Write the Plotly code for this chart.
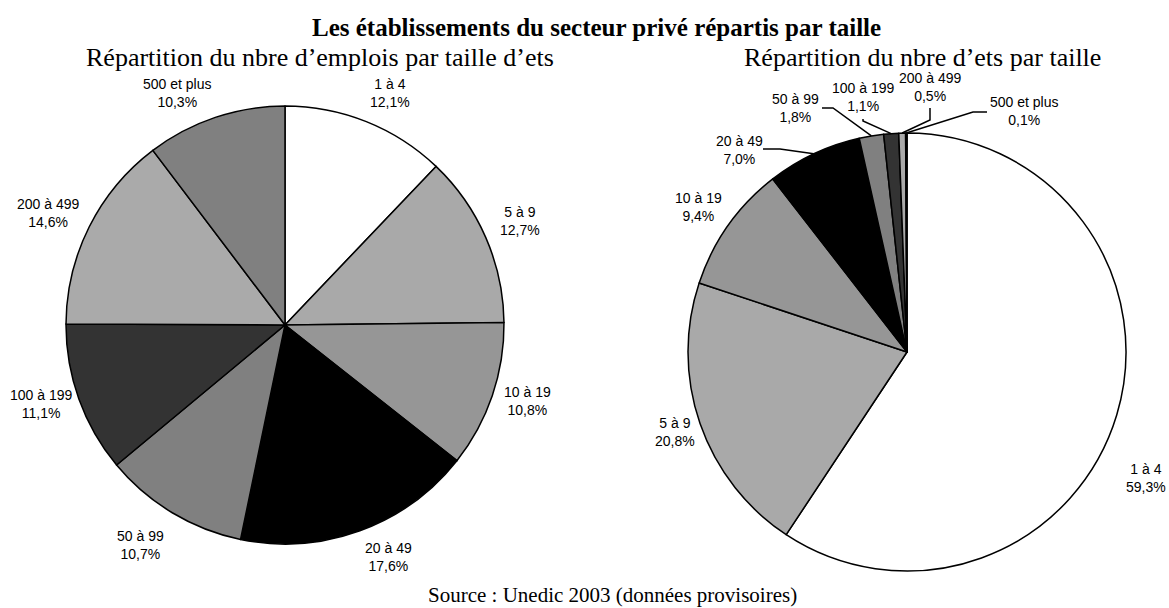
import math
import plotly.graph_objects as go

# ---------------- data ----------------
categories = ["1 à 4", "5 à 9", "10 à 19", "20 à 49", "50 à 99", "100 à 199", "200 à 499", "500 et plus"]
emplois_pct = [12.1, 12.7, 10.8, 17.6, 10.7, 11.1, 14.6, 10.3]
ets_pct = [59.3, 20.8, 9.4, 7.0, 1.8, 1.1, 0.5, 0.1]

title_text = "<b>Les établissements du secteur privé répartis par taille</b>"
left_title = "Répartition du nbre d’emplois par taille d’ets"
right_title = "Répartition du nbre d’ets par taille"
source_text = "Source : Unedic 2003 (données provisoires)"

colors = ["#ffffff", "#a9a9a9", "#969696", "#000000", "#808080", "#333333", "#aaaaaa", "#808080"]

# ---------------- layout helpers ----------------
W, H = 1169, 608
def fx(x):
    return x / W
def fy(y):
    return 1 - y / H

L_C, L_R = (285, 325), 219
R_C, R_R = (907, 352), 219

def domain(c, r):
    return dict(x=[fx(c[0] - r), fx(c[0] + r)], y=[fy(c[1] + r), fy(c[1] - r)])

def mid_point(values, i, c, r):
    tot = sum(values)
    frac = (sum(values[:i]) + values[i] / 2) / tot
    a = 2 * math.pi * frac
    return c[0] + r * math.sin(a), c[1] - r * math.cos(a)

def fmt(v):
    return f"{v:.1f}".replace(".", ",") + "%"

# label centres (pixels) – layout only
left_label_pos = [(390, 93), (520, 221), (527, 401), (388, 557), (140, 545), (41, 404), (48, 213), (177, 93)]
right_label_pos = [(1146, 478), (675, 432), (698, 207), (740, 150), (795, 108), (863, 97), (930, 87), (1024, 111)]
# leader lines for the right pie: (start point near label, elbow) – layout only
right_leaders = {
    3: [(763, 149), (780, 149)],
    4: [(822, 108), (833, 108)],
    5: [(863, 119), (863, 121)],
    6: [(930, 108), (930, 120)],
    7: [(987, 112), (973, 112)],
}

fig = go.Figure()
for vals, c, r in [(emplois_pct, L_C, L_R), (ets_pct, R_C, R_R)]:
    fig.add_trace(go.Pie(
        labels=categories, values=vals, sort=False, direction="clockwise", rotation=0,
        marker=dict(colors=colors, line=dict(color="#000000", width=1.5)),
        textinfo="none", hoverinfo="label+percent", showlegend=False,
        domain=domain(c, r),
    ))

annotations = []
label_font = dict(family="Liberation Sans, Arial, sans-serif", size=14, color="#000000")
for i, cat in enumerate(categories):
    x, y = left_label_pos[i]
    annotations.append(dict(x=fx(x), y=fy(y), xref="paper", yref="paper", showarrow=False,
                            text=f"{cat}<br>{fmt(emplois_pct[i])}", font=label_font,
                            xanchor="center", yanchor="middle"))
    x, y = right_label_pos[i]
    annotations.append(dict(x=fx(x), y=fy(y), xref="paper", yref="paper", showarrow=False,
                            text=f"{cat}<br>{fmt(ets_pct[i])}", font=label_font,
                            xanchor="center", yanchor="middle"))

shapes = []
for i, pts in right_leaders.items():
    ex, ey = mid_point(ets_pct, i, R_C, R_R)
    allp = pts + [(ex, ey)]
    path = "M " + " L ".join(f"{fx(px_)},{fy(py_)}" for px_, py_ in allp)
    shapes.append(dict(type="path", path=path, xref="paper", yref="paper",
                       line=dict(color="#000000", width=1.5)))

serif = "Liberation Serif, Times New Roman, serif"
annotations += [
    dict(x=fx(596), y=fy(27), xref="paper", yref="paper", showarrow=False, text=title_text,
         font=dict(family=serif, size=25, color="#000000"), xanchor="center", yanchor="middle"),
    dict(x=fx(320), y=fy(57), xref="paper", yref="paper", showarrow=False, text=left_title,
         font=dict(family=serif, size=26, color="#000000"), xanchor="center", yanchor="middle"),
    dict(x=fx(922), y=fy(57), xref="paper", yref="paper", showarrow=False, text=right_title,
         font=dict(family=serif, size=26, color="#000000"), xanchor="center", yanchor="middle"),
    dict(x=fx(612), y=fy(595), xref="paper", yref="paper", showarrow=False, text=source_text,
         font=dict(family=serif, size=21, color="#000000"), xanchor="center", yanchor="middle"),
]

fig.update_layout(
    width=W, height=H, margin=dict(l=0, r=0, t=0, b=0),
    paper_bgcolor="#ffffff", plot_bgcolor="#ffffff",
    annotations=annotations, shapes=shapes,
)
fig.write_html("out.html", config={"displayModeBar": False},
               post_script="document.body.style.margin='0';document.body.style.overflow='hidden';")
